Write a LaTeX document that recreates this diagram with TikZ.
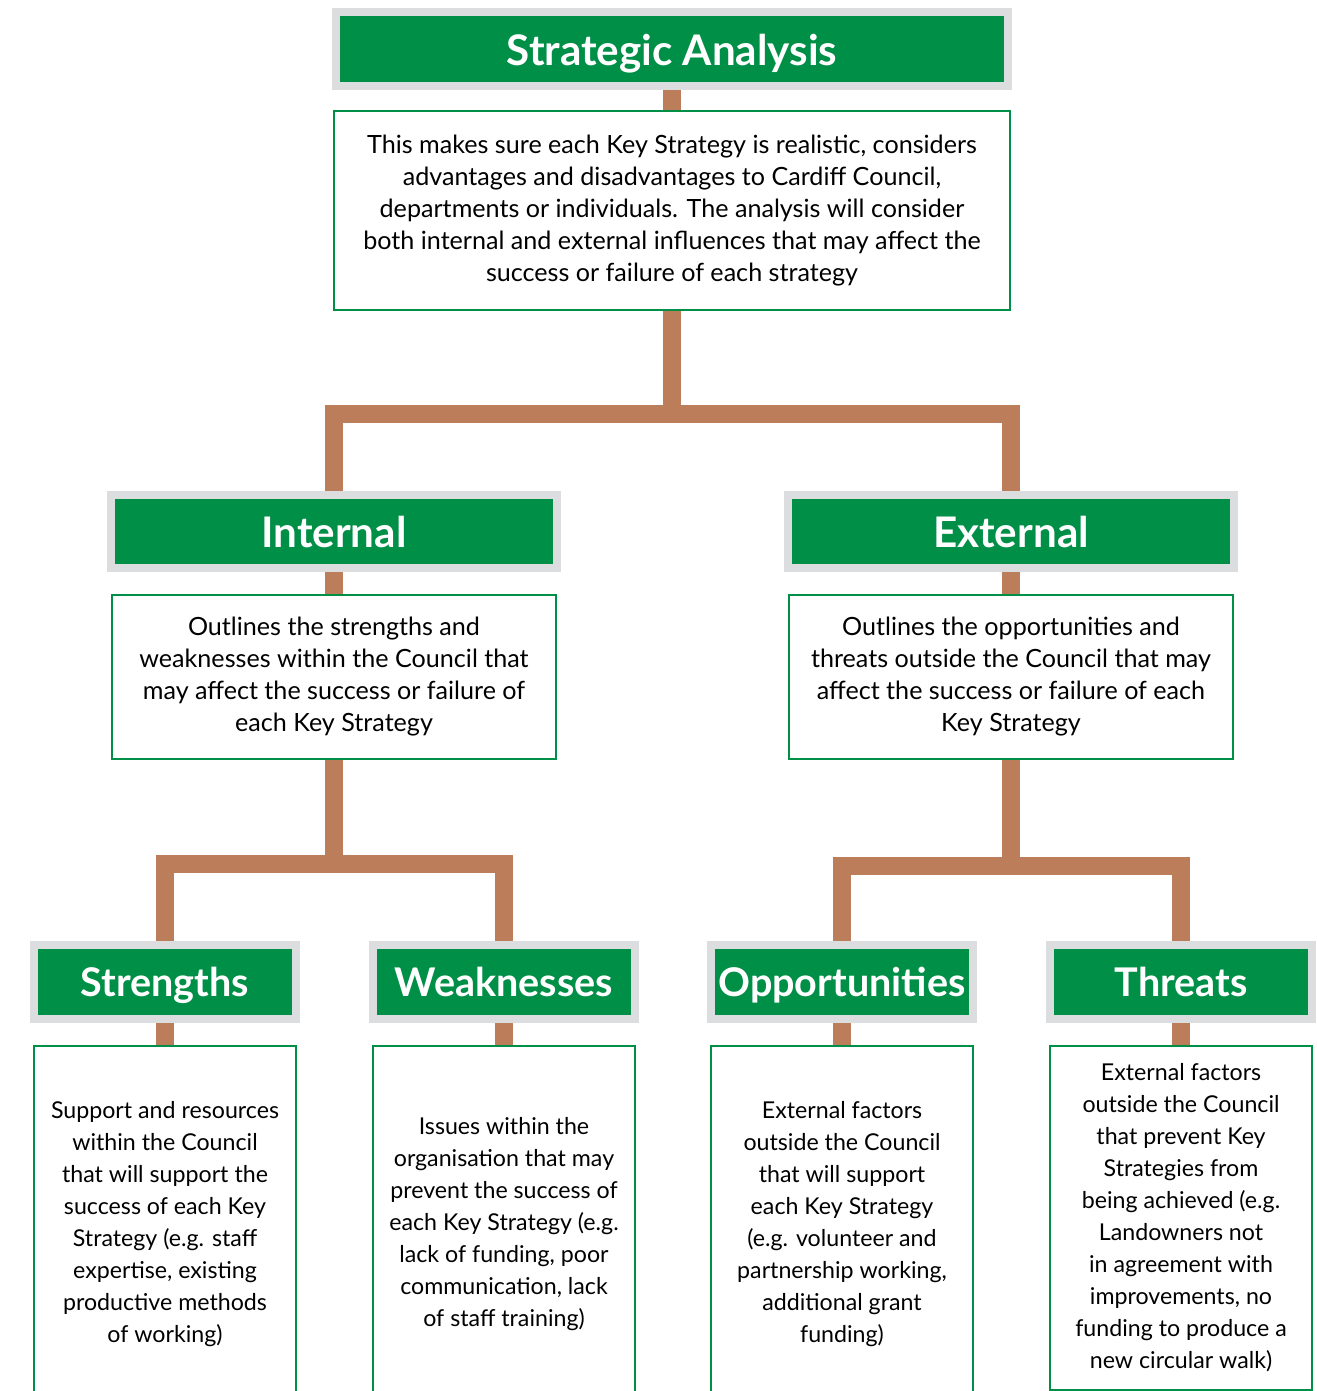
\documentclass[tikz,border=0pt]{standalone}
\usepackage{fontspec}
\setmainfont{Lato}
\usetikzlibrary{positioning,backgrounds}
\definecolor{cgreen}{RGB}{0,143,71}
\definecolor{cgray}{RGB}{220,221,222}
\definecolor{cbrown}{RGB}{187,125,90}
\begin{document}
\begin{tikzpicture}[x=0.02cm,y=-0.02cm,
	header/.style={fill=cgreen,draw=cgray,line width=0.16cm,text=white,minimum height=1.48cm,inner sep=0pt,text depth=0pt},
	bighdr/.style={header,minimum width=13.44cm,text height=0.68cm,font=\fontsize{24}{28}\selectfont\bfseries},
	midhdr/.style={header,minimum width=8.92cm,text height=0.66cm,font=\fontsize{24}{28}\selectfont\bfseries},
	lowhdr/.style={header,minimum width=5.26cm,text height=0.6cm,font=\fontsize{22.5}{27}\selectfont\bfseries},
	descbox/.style={draw=cgreen,line width=0.04cm,fill=white,align=center,font=\fontsize{14.3}{18.2}\selectfont,inner sep=0pt},
	swotbox/.style={descbox,minimum width=5.24cm,anchor=north,font=\fontsize{13.2}{18.2}\selectfont},
	conn/.style={draw=cbrown,line width=0.36cm}]
	%\draw[lightgray] (0,0) grid[step=100] (1316,1391);
	\useasboundingbox (0,0) rectangle (1316,1391);
	% top level
	\node[bighdr] (strat) at (672,49) {Strategic Analysis};
	\node[descbox,minimum width=13.52cm,minimum height=3.98cm,text depth=0.1cm] (stratdesc) at (672,210.5)
		{This makes sure each Key Strategy is realistic, considers\\
		advantages and disadvantages to Cardiff Council,\\
		departments or individuals. The analysis will consider\\
		both internal and external influences that may affect the\\
		success or failure of each strategy};
	% internal / external
	\node[midhdr] (int) at (334,531.5) {Internal};
	\node[midhdr] (ext) at (1011,531.5) {External};
	\node[descbox,minimum width=8.88cm,minimum height=3.28cm] (intdesc) at (334,677)
		{Outlines the strengths and\\
		weaknesses within the Council that\\
		may affect the success or failure of\\
		each Key Strategy};
	\node[descbox,minimum width=8.88cm,minimum height=3.28cm] (extdesc) at (1011,677)
		{Outlines the opportunities and\\
		threats outside the Council that may\\
		affect the success or failure of each\\
		Key Strategy};
	% swot
	\node[lowhdr] (str) at (165,981.5) {Strengths};
	\node[lowhdr] (weak) at (504,981.5) {Weaknesses};
	\node[lowhdr] (opp) at (842,981.5) {Opportunities};
	\node[lowhdr] (thr) at (1181,981.5) {Threats};
	\node[swotbox,minimum height=7.14cm] (strdesc) at (165,1045)
		{Support and resources\\
		within the Council\\
		that will support the\\
		success of each Key\\
		Strategy (e.g. staff\\
		expertise, existing\\
		productive methods\\
		of working)};
	\node[swotbox,minimum height=7.14cm] (weakdesc) at (504,1045)
		{Issues within the\\
		organisation that may\\
		prevent the success of\\
		each Key Strategy (e.g.\\
		lack of funding, poor\\
		communication, lack\\
		of staff training)};
	\node[swotbox,minimum height=7.14cm] (oppdesc) at (842,1045)
		{External factors\\
		outside the Council\\
		that will support\\
		each Key Strategy\\
		(e.g. volunteer and\\
		partnership working,\\
		additional grant\\
		funding)};
	\node[swotbox,minimum height=6.88cm] (thrdesc) at (1181,1045)
		{External factors\\
		outside the Council\\
		that prevent Key\\
		Strategies from\\
		being achieved (e.g.\\
		Landowners not\\
		in agreement with\\
		improvements, no\\
		funding to produce a\\
		new circular walk)};
	\coordinate (j1) at (672,414);
	\coordinate (j2) at (334,864);
	\coordinate (j3) at (1011,866);
	\begin{scope}[on background layer]
	\draw[conn] (strat.south) -- (stratdesc.north);
	\draw[conn] (stratdesc.south) -- (j1);
	\draw[conn] (int.north) |- (j1) -| (ext.north);
	\draw[conn] (int.south) -- (intdesc.north);
	\draw[conn] (ext.south) -- (extdesc.north);
	\draw[conn] (intdesc.south) -- (j2);
	\draw[conn] (str.north) |- (j2) -| (weak.north);
	\draw[conn] (extdesc.south) -- (j3);
	\draw[conn] (opp.north) |- (j3) -| (thr.north);
	\draw[conn] (str.south) -- (strdesc.north);
	\draw[conn] (weak.south) -- (weakdesc.north);
	\draw[conn] (opp.south) -- (oppdesc.north);
	\draw[conn] (thr.south) -- (thrdesc.north);
	\end{scope}
\end{tikzpicture}
\end{document}
